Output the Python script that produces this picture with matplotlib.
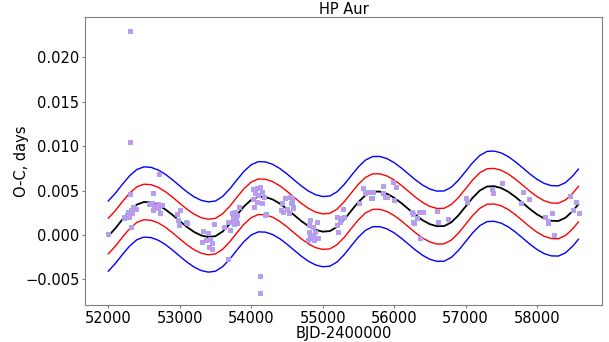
import matplotlib
matplotlib.use("Agg")
import matplotlib.pyplot as plt
import numpy as np

# observed O-C points (BJD-2400000, days)
obs_bjd = [52000, 52304, 52308, 52630, 52710, 52350, 52383, 52313, 52280, 52327,
           52257, 52294, 52220, 52313, 52224, 52574, 52607, 52644, 52700, 52747,
           52630, 52692, 52728, 53004, 52958, 52972, 52990, 53088, 53106, 53484,
           53330, 53392, 53363, 53424, 53448, 53414, 53448, 53308, 53624, 53671,
           53704, 53676, 53728, 53774, 53798, 53751, 53784, 53806, 53764, 53830,
           53741, 54030, 54078, 54124, 54054, 54100, 54148, 54184, 54030, 54078,
           54156, 54204, 54044, 54194, 54124, 54124, 54428, 54474, 54544, 54568,
           54418, 54498, 54530, 54450, 54590, 54824, 54814, 54870, 54810, 54870,
           54824, 54568, 54558, 54582, 54918, 54894, 54824, 54800, 54940, 54880,
           55198, 55268, 55290, 55244, 55198, 55220, 55300, 55562, 55594, 55510,
           55688, 55640, 55850, 55990, 56028, 55702, 55678, 55850, 55874, 55906,
           56000, 56248, 56270, 56350, 56410, 56318, 56270, 56284, 56364, 56598,
           56620, 56752, 57004, 57018, 57508, 57376, 57390, 57810, 57894, 57774,
           58114, 58208, 58152, 58160, 58240, 58464, 58548, 58510, 58590, 52304]
obs_oc = [0.0001, 0.01045, 0.00457, 0.00476, 0.00682, 0.00311, 0.00292, 0.00281, 0.00262, 0.00244,
          0.00225, 0.00206, 0.00195, 0.00094, 0.00200, 0.00345, 0.00363, 0.00326, 0.00345, 0.00337,
          0.00281, 0.00300, 0.00244, 0.00281, 0.00236, 0.00169, 0.00112, 0.00150, 0.00131, 0.00120,
          0.00048, 0.00019, -0.00056, -0.00048, -0.00087, -0.00138, -0.00161, -0.00075, 0.00093, 0.00150,
          0.00056, -0.00266, 0.00244, 0.00262, 0.00225, 0.00206, 0.00169, 0.00139, 0.00124, 0.00311,
          0.00150, 0.00514, 0.00525, 0.00543, 0.00469, 0.00450, 0.00487, 0.00424, 0.00401, 0.00374,
          0.00363, 0.00236, 0.00318, 0.00225, -0.00457, -0.00648, 0.00356, 0.00413, 0.00424, 0.00363,
          0.00281, 0.00289, 0.00244, 0.00262, 0.00318, 0.00169, 0.00112, 0.00094, 0.00037, 0.00000,
          -0.00037, 0.00413, 0.00356, 0.00300, 0.00150, 0.00037, -0.00019, -0.00056, -0.00037, -0.00056,
          0.00199, 0.00188, 0.00289, 0.00150, 0.00112, 0.00037, 0.00206, 0.00525, 0.00476, 0.00356,
          0.00413, 0.00487, 0.00554, 0.00599, 0.00543, 0.00487, 0.00413, 0.00469, 0.00424, 0.00424,
          0.00393, 0.00262, 0.00236, 0.00255, 0.00262, 0.00188, 0.00150, 0.00139, -0.00037, 0.00273,
          0.00150, 0.00176, 0.00419, 0.00374, 0.00588, 0.00517, 0.00476, 0.00487, 0.00401, 0.00356,
          0.00206, 0.00244, 0.00161, 0.00131, 0.00000, 0.00442, 0.00367, 0.00281, 0.00244, 0.02295]

# fitted model curve
fit_bjd = list(range(52000, 58600, 100)) + [58580]
fit_oc = [-0.000117, 0.000763, 0.001782, 0.002731, 0.003426, 0.003723, 0.003659, 0.003365, 0.002875, 0.002254,
          0.001573, 0.000911, 0.000350, -0.000045, -0.000223, -0.000123, 0.000393, 0.001243, 0.002254, 0.003226,
          0.003958, 0.004308, 0.004277, 0.004006, 0.003540, 0.002930, 0.002251, 0.001583, 0.001007, 0.000588,
          0.000382, 0.000440, 0.000908, 0.001723, 0.002728, 0.003715, 0.004485, 0.004885, 0.004890, 0.004648,
          0.004199, 0.003604, 0.002929, 0.002256, 0.001666, 0.001225, 0.000992, 0.001009, 0.001427, 0.002210,
          0.003199, 0.004199, 0.005006, 0.005458, 0.005499, 0.005285, 0.004860, 0.004277, 0.003609, 0.002930,
          0.002324, 0.001865, 0.001605, 0.001584, 0.001952, 0.002696, 0.003470]
# half-widths of the red and blue bands
band_red = 0.0020
band_blue = 0.00395

fit_x = np.array(fit_bjd)
fit_y = np.array(fit_oc)

fig = plt.figure(figsize=(6.09, 3.42), dpi=100)
ax = fig.add_axes([0.1396, 0.1082, 0.8489, 0.8421])

ax.plot(fit_x, fit_y + band_blue, color="blue", lw=1.0)
ax.plot(fit_x, fit_y - band_blue, color="blue", lw=1.0)
ax.plot(fit_x, fit_y + band_red, color="red", lw=1.0)
ax.plot(fit_x, fit_y - band_red, color="red", lw=1.0)
ax.plot(fit_x, fit_y, color="black", lw=1.3)
ax.plot(obs_bjd, obs_oc, "s", ms=3.4, mfc="violet", mec="#8ab0ee", mew=0.7)

ax.set_xlim(51674, 58910)
ax.set_ylim(-0.00787, 0.02453)
ax.set_xticks([52000, 53000, 54000, 55000, 56000, 57000, 58000])
ax.set_yticks([-0.005, 0.0, 0.005, 0.010, 0.015, 0.020])
ax.set_yticklabels(["\u22120.005", "0.000", "0.005", "0.010", "0.015", "0.020"])
ax.tick_params(labelsize=10.5, color="0.5", length=2.5, pad=1.5)
for s in ax.spines.values():
    s.set_color("0.5")

ax.set_title("HP Aur", fontsize=10.5, pad=2)
ax.set_xlabel("BJD-2400000", fontsize=10.5, labelpad=0.5)
ax.set_ylabel("O-C, days", fontsize=10.5, labelpad=-3)

fig.savefig("out.png", dpi=100)
